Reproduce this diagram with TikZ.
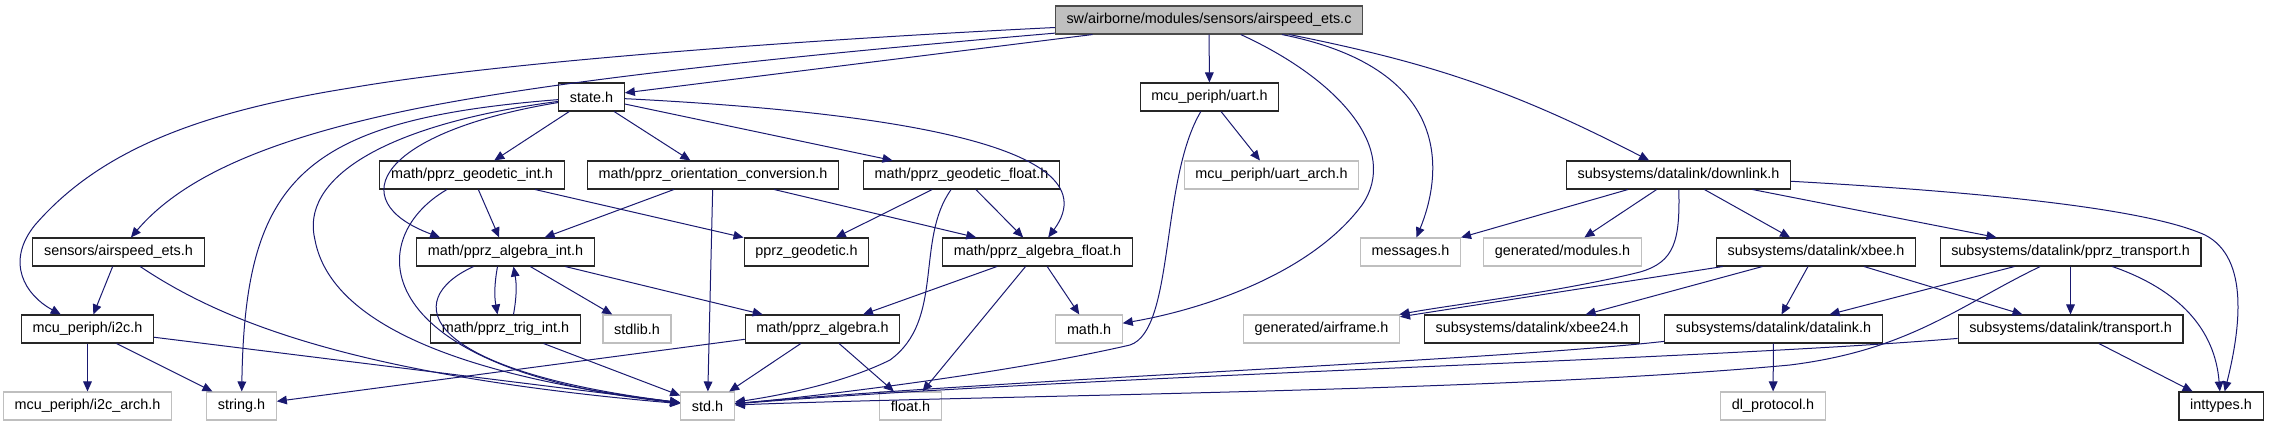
\documentclass[tikz,border=0pt]{standalone}
\usepackage{fontspec}
\setmainfont{Liberation Sans}
\usepackage{xcolor}
\usepackage{tikz}
\usetikzlibrary{arrows.meta,calc}
\definecolor{edgeblue}{HTML}{191970}
\definecolor{extgray}{HTML}{BFBFBF}
\tikzset{
  filebox/.style={draw=black!85, line width=0.8pt, fill=white, minimum height=21pt, inner xsep=8.4pt, inner ysep=0pt, font=\fontsize{10.8pt}{12pt}\selectfont},
  docnode/.style={filebox},
  extnode/.style={filebox, draw=extgray},
  rootnode/.style={filebox, fill=extgray, draw=black!70},
  incl/.style={-{Triangle[length=7.5pt, width=6.5pt]}, line width=0.75pt, color=edgeblue}
}
\begin{document}
\begin{tikzpicture}[x=0.75pt, y=-0.75pt]
  \useasboundingbox (0,0) rectangle (2269,427);
  \node[rootnode] (root) at (1209,20) {sw/airborne/modules/sensors/airspeed\_ets.c};

  \node[docnode] (state) at (591.5,97) {state.h};
  \node[docnode] (uart) at (1209.5,97) {mcu\_periph/uart.h};

  \node[docnode] (geoint) at (472,175) {math/pprz\_geodetic\_int.h};
  \node[docnode] (orient) at (713,175) {math/pprz\_orientation\_conversion.h};
  \node[docnode] (geofloat) at (961.5,175) {math/pprz\_geodetic\_float.h};
  \node[extnode] (uartarch) at (1271.5,175) {mcu\_periph/uart\_arch.h};
  \node[docnode] (downlink) at (1678.5,175) {subsystems/datalink/downlink.h};

  \node[docnode] (airets) at (118.5,252) {sensors/airspeed\_ets.h};
  \node[docnode] (algint) at (505.5,252) {math/pprz\_algebra\_int.h};
  \node[docnode] (geodetic) at (806.5,252) {pprz\_geodetic.h};
  \node[docnode] (algfloat) at (1037.5,252) {math/pprz\_algebra\_float.h};
  \node[extnode] (messages) at (1410.5,252) {messages.h};
  \node[extnode] (modules) at (1562.5,252) {generated/modules.h};
  \node[docnode] (xbee) at (1816,252) {subsystems/datalink/xbee.h};
  \node[docnode] (pprztr) at (2070.5,252) {subsystems/datalink/pprz\_transport.h};

  \node[docnode] (i2c) at (87.5,329) {mcu\_periph/i2c.h};
  \node[docnode] (trigint) at (505.5,329) {math/pprz\_trig\_int.h};
  \node[extnode] (stdlib) at (637,329) {stdlib.h};
  \node[docnode] (algebra) at (822.5,329) {math/pprz\_algebra.h};
  \node[extnode] (mathh) at (1089,329) {math.h};
  \node[extnode] (airframe) at (1321.5,329) {generated/airframe.h};
  \node[docnode] (xbeetf) at (1532,329) {subsystems/datalink/xbee24.h};
  \node[docnode] (datalink) at (1773.5,329) {subsystems/datalink/datalink.h};
  \node[docnode] (transport) at (2070.5,329) {subsystems/datalink/transport.h};

  \node[extnode] (i2carch) at (87.5,406) {mcu\_periph/i2c\_arch.h};
  \node[extnode] (strh) at (241.5,406) {string.h};
  \node[extnode] (stdh) at (707.5,406) {std.h};
  \node[extnode] (floath) at (910.5,406) {float.h};
  \node[extnode] (dlproto) at (1773,406) {dl\_protocol.h};
  \node[docnode] (inttypes) at (2221,406) {inttypes.h};

  % airspeed_ets.c
  \draw[incl] (root) .. controls (800,40) and (500,62) .. (350,88) .. controls (200,112) and (100,150) .. (35,225) .. controls (5,262) and (25,295) .. (i2c);
  \draw[incl] (root) .. controls (800,55) and (550,80) .. (400,112) .. controls (260,142) and (180,180) .. (airets);
  \draw[incl] (root) -- (state);
  \draw[incl] (root) -- (uart);
  \draw[incl] (root) .. controls (1340,80) and (1400,150) .. (1362,205) .. controls (1310,275) and (1200,310) .. (mathh);
  \draw[incl] (root) .. controls (1460,70) and (1440,180) .. (messages);
  \draw[incl] (root) to[bend left=8] (downlink);

  % state.h
  \draw[incl] (state) .. controls (300,120) and (245,180) .. (strh);
  \draw[incl] (state) .. controls (380,125) and (300,180) .. (315,240) .. controls (330,320) and (450,375) .. (stdh);
  \draw[incl] (state) .. controls (380,132) and (340,200) .. ($(algint.north west)+(24,0)$);
  \draw[incl] (state) -- (geoint);
  \draw[incl] (state) -- (orient);
  \draw[incl] (state) -- (geofloat);
  \draw[incl] (state) .. controls (850,110) and (1120,140) .. (algfloat);

  \draw[incl] (geoint) .. controls (360,240) and (370,370) .. (stdh);
  \draw[incl] (geoint) -- (algint);
  \draw[incl] (geoint) -- (geodetic);
  \draw[incl] (orient) -- (algint);
  \draw[incl] (orient) -- (stdh);
  \draw[incl] (orient) -- (algfloat);
  \draw[incl] (geofloat) -- (geodetic);
  \draw[incl] (geofloat) .. controls (915,240) and (945,320) .. (890,360) .. controls (840,385) and (770,397) .. (stdh);
  \draw[incl] (geofloat) -- (algfloat);

  \draw[incl] (algint) .. controls (400,300) and (420,370) .. (stdh);
  \draw[incl] ([xshift=-6pt]algint.south) to[bend right=10] ([xshift=-6pt]trigint.north);
  \draw[incl] ([xshift=6pt]trigint.north) to[bend right=10] ([xshift=6pt]algint.south);
  \draw[incl] (algint) -- (stdlib);
  \draw[incl] (algint) -- (algebra);
  \draw[incl] (trigint) -- (stdh);
  \draw[incl] (algfloat) -- (algebra);
  \draw[incl] (algfloat) -- (floath);
  \draw[incl] (algfloat) -- (mathh);
  \draw[incl] (algebra) -- (strh);
  \draw[incl] (algebra) -- (stdh);
  \draw[incl] (algebra) -- (floath);

  \draw[incl] (airets) -- (i2c);
  \draw[incl] (airets) .. controls (220,320) and (350,375) .. (stdh);
  \draw[incl] (i2c) -- (i2carch);
  \draw[incl] (i2c) -- (strh);
  \draw[incl] (i2c) -- (stdh);

  \draw[incl] (uart) -- (uartarch);
  \draw[incl] (uart) .. controls (1160,180) and (1175,330) .. (1130,345) .. controls (1000,375) and (800,398) .. (stdh);

  % datalink
  \draw[incl] (downlink) -- (messages);
  \draw[incl] (downlink) -- (modules);
  \draw[incl] (downlink) .. controls (1680,240) and (1675,262) .. (1640,272) .. controls (1560,292) and (1450,305) .. (airframe);
  \draw[incl] (downlink) -- (xbee);
  \draw[incl] (downlink) -- (pprztr);
  \draw[incl] (downlink) .. controls (2000,193) and (2150,210) .. (2205,235) .. controls (2250,258) and (2240,330) .. (inttypes);
  \draw[incl] (xbee) -- (airframe);
  \draw[incl] (xbee) -- (xbeetf);
  \draw[incl] (xbee) -- (datalink);
  \draw[incl] (xbee) -- (transport);
  \draw[incl] (pprztr) -- (datalink);
  \draw[incl] (pprztr) .. controls (1960,305) and (1910,350) .. (1790,365) .. controls (1500,392) and (1000,395) .. (stdh);
  \draw[incl] (pprztr) -- (transport);
  \draw[incl] (pprztr) .. controls (2180,290) and (2215,330) .. (inttypes);
  \draw[incl] (datalink) .. controls (1500,360) and (1000,380) .. (stdh);
  \draw[incl] (datalink) -- (dlproto);
  \draw[incl] (transport) .. controls (1700,360) and (1100,375) .. (stdh);
  \draw[incl] (transport) -- (inttypes);
\end{tikzpicture}
\end{document}
